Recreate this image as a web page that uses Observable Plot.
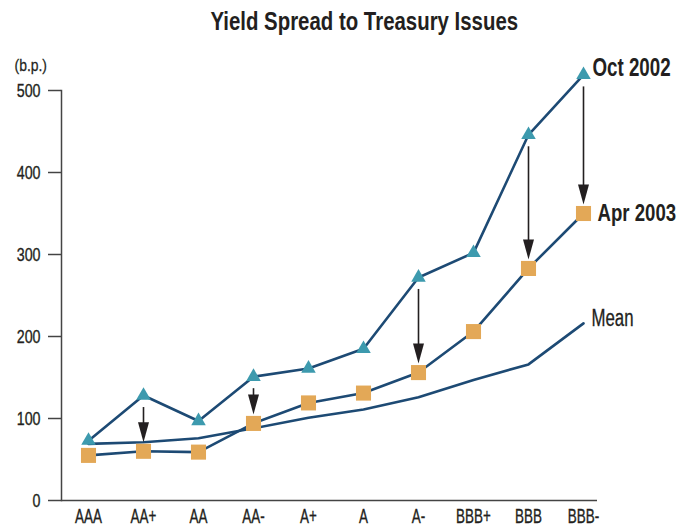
<!DOCTYPE html>
<html><head><meta charset="utf-8">
<script src="https://cdn.jsdelivr.net/npm/d3@7"></script>
<script src="https://cdn.jsdelivr.net/npm/@observablehq/plot@0.6"></script>
<style>
body{margin:0;background:#fff;}
#title{height:36px;width:677px;box-sizing:border-box;padding-top:9px;padding-left:51px;line-height:25.5px;text-align:center;white-space:nowrap;overflow:visible;
 font-family:"Liberation Sans",Arial,sans-serif;font-weight:bold;font-size:25.5px;color:#231f20;}
#title span{display:inline-block;transform:scaleX(0.8);transform-origin:center;}
#chart svg{display:block;}
</style></head>
<body>
<div id="title"><span>Yield Spread to Treasury Issues</span></div>
<div id="chart"></div>
<script>
const ratings = ["AAA","AA+","AA","AA-","A+","A","A-","BBB+","BBB","BBB-"];
const oct2002 = [73,128,97,151,161,185,272,302,446,519];
const apr2003 = [55,60,59,94,119,131,156,206,283,350];
const mean    = [69,71,76,88,101,111,126,147,166,216];
const arrowAt = ["AA+","AA-","A-","BBB","BBB-"];
const yTicks = [0,100,200,300,400,500];
const seriesLabels = ["Oct 2002","Apr 2003","Mean"];
const unitLabel = "(b.p.)";

const FONT = '"Liberation Sans",Arial,sans-serif';
const NAVY = "#1d4a74", TEAL = "#3d9aae", ORANGE = "#e3a857", INK = "#231f20";

const rows = ratings.map((r,i)=>({r, oct:oct2002[i], apr:apr2003[i], mean:mean[i]}));
const arrows = rows.filter(d=>arrowAt.includes(d.r));
const last = rows[rows.length-1];
const head = {draw(ctx){ctx.moveTo(0,0);ctx.lineTo(-5.5,-20);ctx.lineTo(5.5,-20);ctx.closePath();}};

const chart = Plot.plot({
  width: 677, height: 491,
  marginLeft: 61, marginRight: 80, marginTop: 54, marginBottom: 27,
  style: {fontFamily: FONT, color: INK, background: "#fff", overflow: "visible"},
  x: {type: "point", domain: ratings, range: [88, 583], padding: 0},
  y: {domain: [0, 500]},
  marks: [
    Plot.frame({anchor: "left", stroke: "#444", strokeWidth: 1.5}),
    Plot.ruleY([0], {stroke: "#444", strokeWidth: 1.5}),
    Plot.axisY({ticks: yTicks, tickSize: 13, tickPadding: 8, fontSize: 19, label: null, stroke: "#444", strokeWidth: 1.5}),
    Plot.axisX({tickSize: 0, tickPadding: 9, fontSize: 19.5, label: null}),
    Plot.line(rows, {x: "r", y: "mean", stroke: NAVY, strokeWidth: 2.6}),
    Plot.line(rows, {x: "r", y: "apr", stroke: NAVY, strokeWidth: 2.6}),
    Plot.line(rows, {x: "r", y: "oct", stroke: NAVY, strokeWidth: 2.6}),
    Plot.ruleX(arrows, {x: "r", y1: "oct", y2: "apr", stroke: INK, strokeWidth: 1.6, insetTop: 12, insetBottom: 26}),
    Plot.dot(arrows, {x: "r", y: "apr", symbol: head, fill: INK, stroke: null, dy: -9}),
    Plot.dot(rows, {x: "r", y: "apr", symbol: "square", r: 8.5, fill: ORANGE, stroke: null}),
    Plot.dot(rows, {x: "r", y: "oct", symbol: "triangle", r: 5.4, fill: TEAL, stroke: null}),
    Plot.text([last], {x: "r", y: "oct", text: () => seriesLabels[0], textAnchor: "start", dx: 9, dy: -6.5, fontSize: 25, fontWeight: "bold", fill: INK}),
    Plot.text([last], {x: "r", y: "apr", text: () => seriesLabels[1], textAnchor: "start", dx: 14, dy: 0, fontSize: 24.5, fontWeight: "bold", fill: INK}),
    Plot.text([last], {x: "r", y: "mean", text: () => seriesLabels[2], textAnchor: "start", dx: 8, dy: -5, fontSize: 23, fill: INK}),
    Plot.text([unitLabel], {frameAnchor: "top-left", text: d => d, textAnchor: "start", dx: -47, dy: -32, fontSize: 17, fill: INK})
  ]
});
document.getElementById("chart").appendChild(chart);
// emulate the condensed, slightly heavy typeface of the original
const squeeze = {"19": [0.75, 0.35], "19.5": [0.69, 0.35], "25": [0.75, 0], "24.5": [0.76, 0], "23": [0.73, 0.3], "17": [0.82, 0.25]};
chart.querySelectorAll("text").forEach(t => {
  const fs = String(parseFloat(getComputedStyle(t).fontSize));
  const [s, w] = squeeze[fs] || [0.75, 0];
  const tr = t.getAttribute("transform") || "";
  t.setAttribute("transform", tr + ` scale(${s},1)`);
  if (w) { t.style.stroke = INK; t.style.strokeWidth = w + "px"; }
});
</script>
</body></html>
